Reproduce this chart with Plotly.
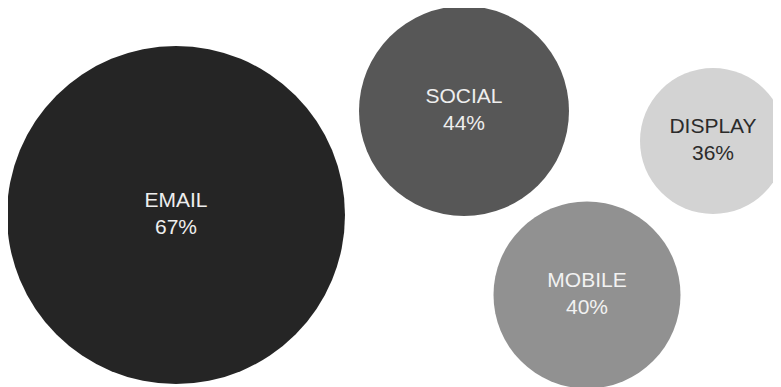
import plotly.graph_objects as go

categories = ["EMAIL", "SOCIAL", "MOBILE", "DISPLAY"]
percent = [67, 44, 40, 36]

# layout (pixel space of the page)
cx = [176, 464, 587, 713]
cy = [215, 111, 295, 141]
diam = [338, 210, 187, 146]
fill = ["#252525", "#575757", "#919191", "#d3d3d3"]
txtcol = ["#eeeeee", "#eeeeee", "#f2f2f2", "#2b2b2b"]

labels = [f"{c}<br>{p}%" for c, p in zip(categories, percent)]

# page body has an 8px margin; offset axis ranges so data units equal page pixels
off = 8

fig = go.Figure(go.Scatter(
    x=cx, y=cy, mode="markers+text",
    text=labels, textposition="middle center",
    textfont=dict(family="Liberation Sans, Arial, sans-serif", size=21, color=txtcol),
    marker=dict(size=diam, sizemode="diameter", color=fill, line=dict(width=0), opacity=1),
    hoverinfo="text",
))
fig.update_layout(
    width=781, height=387,
    margin=dict(l=0, r=0, t=0, b=0),
    paper_bgcolor="white", plot_bgcolor="white",
    showlegend=False,
    xaxis=dict(range=[off, 781 + off], visible=False, fixedrange=True),
    yaxis=dict(range=[387 + off, off], visible=False, fixedrange=True),
)
fig.write_html("out.html")
